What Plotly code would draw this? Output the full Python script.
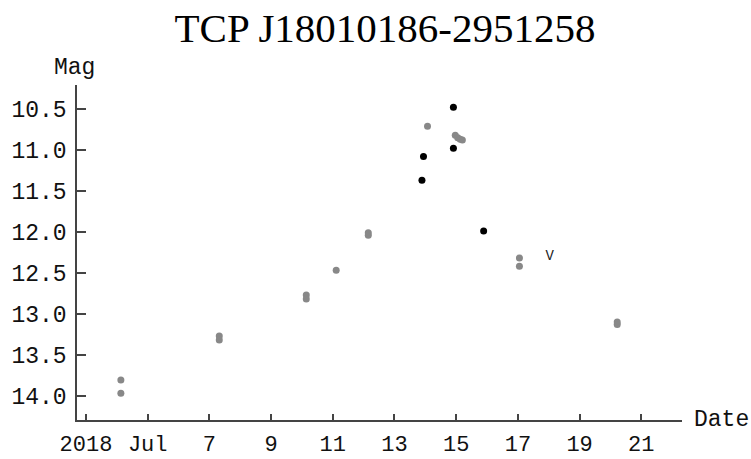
import plotly.graph_objects as go
import pandas as pd

# Day of July 2018 (fractional) and magnitudes
gray_day = [4.13, 4.13, 7.32, 7.32, 10.14, 10.14, 11.11, 12.15, 12.15, 14.07,
            14.97, 15.05, 15.13, 15.20, 17.05, 17.05, 20.22, 20.22]
gray_mag = [13.81, 13.97, 13.27, 13.32, 12.77, 12.82, 12.47, 12.01, 12.04, 10.71,
            10.82, 10.85, 10.87, 10.88, 12.32, 12.42, 13.10, 13.13]
black_day = [13.89, 13.94, 14.91, 14.91, 15.89]
black_mag = [11.37, 11.08, 10.98, 10.48, 11.99]
v_day = [18.03]
v_mag = [12.30]
v_text = ["V"]

tick_days = [3, 5, 7, 9, 11, 13, 15, 17, 19, 21]
tick_text = ["2018", "Jul", "7", "9", "11", "13", "15", "17", "19", "21"]
y_ticks = [10.5, 11.0, 11.5, 12.0, 12.5, 13.0, 13.5, 14.0]
y_text = ["10.5", "11.0", "11.5", "12.0", "12.5", "13.0", "13.5", "14.0"]

base = pd.Timestamp("2018-07-01")


def to_dt(days):
    return [base + pd.Timedelta(days=d - 1) for d in days]


MONO = "Liberation Mono"

fig = go.Figure()
fig.add_trace(go.Scatter(x=to_dt(gray_day), y=gray_mag, mode="markers",
                         marker=dict(color="#888888", size=7), showlegend=False))
fig.add_trace(go.Scatter(x=to_dt(black_day), y=black_mag, mode="markers",
                         marker=dict(color="#000000", size=7), showlegend=False))
fig.add_trace(go.Scatter(x=to_dt(v_day), y=v_mag, mode="text", text=v_text,
                         textfont=dict(family=MONO, size=14, color="#222222"),
                         showlegend=False))

fig.update_layout(
    width=751, height=459,
    margin=dict(l=77, r=69, t=85, b=39, autoexpand=False),
    paper_bgcolor="white", plot_bgcolor="white",
    title=dict(text="TCP J18010186-2951258", x=385 / 751, xref="container",
               y=1 - 28 / 459, yref="container", xanchor="center", yanchor="middle",
               font=dict(family="Liberation Serif", size=41, color="#000000")),
    xaxis=dict(type="date", range=[to_dt([2.708])[0], to_dt([22.32])[0]],
               tickvals=to_dt(tick_days), ticktext=tick_text,
               showgrid=False, zeroline=False, showline=True, linecolor="#444444",
               linewidth=1.5, ticks="inside", ticklen=6, tickwidth=1.5, tickcolor="#444444",
               tickfont=dict(family=MONO, size=22, color="#111111"),
               ticklabelstandoff=3, automargin=False),
    yaxis=dict(range=[14.297, 10.207], tickvals=y_ticks, ticktext=y_text,
               showgrid=False, zeroline=False, showline=True, linecolor="#444444",
               linewidth=1.5, ticks="inside", ticklen=9, tickwidth=1.5, tickcolor="#444444",
               tickfont=dict(family=MONO, size=23, color="#111111"),
               ticklabelstandoff=4, automargin=False),
    annotations=[
        dict(text="Date", xref="paper", yref="paper", x=1 + 10 / 605, y=0,
             xanchor="left", yanchor="middle", showarrow=False,
             font=dict(family=MONO, size=23, color="#111111")),
        dict(text="Mag", xref="paper", yref="paper", x=-3 / 605, y=1 + 17 / 335,
             xanchor="center", yanchor="middle", showarrow=False,
             font=dict(family=MONO, size=23, color="#111111")),
    ],
)

fig.write_html("out.html")
